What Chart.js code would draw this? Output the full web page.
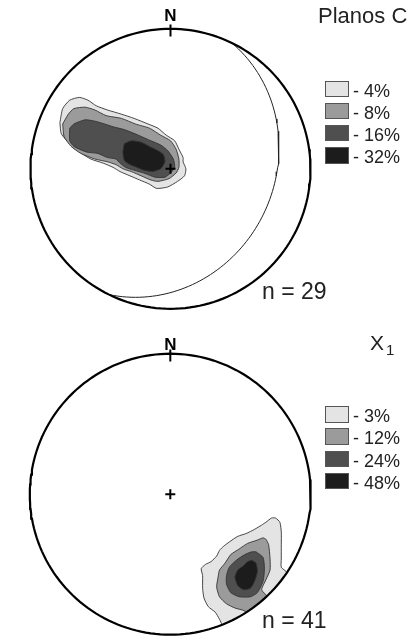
<!DOCTYPE html>
<html><head><meta charset="utf-8">
<script src="https://cdn.jsdelivr.net/npm/chart.js@4.4.1/dist/chart.umd.min.js"></script>
<style>
html,body{margin:0;padding:0;background:#fff;}
#wrap{position:relative;width:420px;height:640px;overflow:hidden;font-family:"Liberation Sans",Arial,Helvetica,sans-serif;color:#222;}
.panel{position:absolute;left:0;width:420px;height:320px;}
canvas{position:absolute;left:0;top:0;}
.t{position:absolute;white-space:nowrap;line-height:1;}
.box{position:absolute;box-sizing:border-box;width:24px;height:16.5px;border:1px solid #555;}
</style></head><body><div id="wrap">
<div class="panel" id="p0" style="top:0"><canvas id="c0" width="420" height="320"></canvas></div>
<div class="panel" id="p1" style="top:320px"><canvas id="c1" width="420" height="320"></canvas></div>
</div>
<script>
// ---------------- data ----------------
const northLabel = 'N';
const titleTop = 'Planos C';
const titleBottom = 'X';
const titleBottomSub = '1';
const levelsTop = [4, 8, 16, 32];        // contour levels (%)
const levelsBottom = [3, 12, 24, 48];
const countTop = 29;
const countBottom = 41;
const planeStrike = 26;                  // mean plane drawn on upper net (deg)
const planeDip = 27;

// contour polygons, in % of net radius (x = east, y = north, equal-area net)
const top4 = [[-79,33],[-77,43],[-72,49],[-65,51],[-59,49],[-53,45],[-45,42],[-35,39],[-26,36],[-16,32],[-9,29],[-3,24],[3,20],[6,14],[9,8],[9,5],[11,0],[10,-5],[5,-9],[-2,-13],[-10,-14],[-15,-11],[-22,-8],[-29,-5],[-36,-2],[-41,1],[-48,4],[-57,7],[-65,12],[-72,18],[-78,25]];
const top8 = [[-77,32],[-73,39],[-69,43],[-61,44],[-54,42],[-46,38],[-35,36],[-25,32],[-15,29],[-7,24],[0,20],[4,14],[6,7],[6,1],[4,-3],[-1,-7],[-9,-9],[-14,-8],[-21,-5],[-28,-2],[-34,0],[-39,3],[-45,5],[-54,7],[-64,11],[-71,16],[-76,23]];
const top16 = [[-72,29],[-69,32],[-61,35],[-54,34],[-47,32],[-41,30],[-33,28],[-23,24],[-14,20],[-7,17],[-2,13],[2,7],[3,1],[0,-3],[-4,-6],[-11,-6],[-19,-3],[-26,-1],[-32,1],[-36,4],[-39,7],[-45,8],[-52,11],[-60,12],[-69,16],[-72,20]];
const top32 = [[-33,18],[-28,20],[-21,19],[-15,16],[-9,13],[-5,10],[-4,5],[-7,0],[-13,-2],[-19,-1],[-24,1],[-29,3],[-33,6],[-34,12]];

const bot3 = [[68,-20],[72,-17],[75,-17],[78,-20],[79,-27],[79,-36],[79,-46],[79,-52],[85,-57],[40,-100],[35,-89],[32,-84],[27,-80],[24,-74],[23,-67],[23,-58],[22,-53],[25,-50],[29,-48],[33,-44],[35,-40],[38,-37],[42,-34],[48,-30],[54,-28],[60,-25],[65,-22]];
const bot12 = [[66,-31],[68,-32],[70,-36],[71,-46],[71,-54],[68,-61],[65,-68],[72,-76],[57,-90],[53,-83],[46,-81],[40,-78],[35,-73],[33,-66],[34,-59],[35,-54],[39,-49],[43,-43],[49,-39],[55,-35],[61,-33]];
const bot24 = [[61,-41],[66,-45],[67,-53],[66,-62],[62,-70],[57,-73],[49,-73],[43,-70],[40,-64],[40,-58],[42,-52],[47,-47],[53,-43],[58,-41]];
const bot48 = [[58,-47],[61,-49],[62,-55],[60,-62],[57,-67],[52,-68],[48,-65],[46,-59],[48,-54],[52,-51],[55,-48]];

// ---------------- styles / layout ----------------
const fillColors = ['#e4e4e4', '#9b9b9b', '#4f4f4f', '#1c1c1c'];
const W = 420, H = 320;
const nets = [
  {canvas:'c0', panelTop:0,   cx:170.5, cy:168.8, r:140,   contours:[top4,top8,top16,top32], levels:levelsTop, n:countTop,
   plane:true, nTop:7.3, legendTop:80.5, legendStep:22.2, countTop:279.5},
  {canvas:'c1', panelTop:320, cx:170.3, cy:174.2, r:140.5, contours:[bot3,bot12,bot24,bot48], levels:levelsBottom, n:countBottom,
   plane:false, nTop:15.6, legendTop:86, legendStep:22.3, countTop:288.8}
];

function rimPath(poly){
  const out = []; let prevRim = null;
  for (const [px,py] of poly){
    let x = px/100, y = py/100; const rr = Math.hypot(x,y); let rim = false;
    if (rr > 1){ x /= rr; y /= rr; rim = true; }
    if (rim && prevRim){
      const a0 = Math.atan2(prevRim.y, prevRim.x), a1 = Math.atan2(y, x);
      let d = a1 - a0; while (d > Math.PI) d -= 2*Math.PI; while (d < -Math.PI) d += 2*Math.PI;
      const n = Math.ceil(Math.abs(d)/(Math.PI/90));
      for (let k=1;k<n;k++){ const a = a0 + d*k/n; out.push({x:Math.cos(a), y:Math.sin(a)}); }
    }
    out.push({x, y}); prevRim = rim ? {x, y} : null;
  }
  out.push({x:out[0].x, y:out[0].y});
  return out;
}
function primitive(){
  const pts = [];
  for (let a=0; a<=360; a+=2){ const t = a*Math.PI/180; pts.push({x:Math.sin(t), y:Math.cos(t)}); }
  return pts;
}
function greatCircle(strike, dip){
  const s = strike*Math.PI/180, dd = dip*Math.PI/180, da = s + Math.PI/2;
  const S = [Math.sin(s), Math.cos(s), 0];
  const D = [Math.cos(dd)*Math.sin(da), Math.cos(dd)*Math.cos(da), Math.sin(dd)];
  const pts = [];
  for (let t=0; t<=180; t+=2){
    const th = t*Math.PI/180;
    const v = [0,1,2].map(i => Math.cos(th)*S[i] + Math.sin(th)*D[i]);
    const f = 1/Math.sqrt(1 + Math.max(0, v[2]));
    pts.push({x:v[0]*f, y:v[1]*f});
  }
  return pts;
}

const wrap = document.getElementById('wrap');
function addText(txt, left, top, size, extra){
  const d = document.createElement('div'); d.className = 't';
  d.style.left = left + 'px'; d.style.top = top + 'px'; d.style.fontSize = size + 'px';
  if (extra) Object.assign(d.style, extra);
  d.innerHTML = txt; wrap.appendChild(d); return d;
}

nets.forEach((g, gi) => {
  const datasets = [];
  datasets.push({data: primitive(), showLine:true, borderColor:'#000', borderWidth:2.2, pointRadius:0, fill:false, order:0});
  datasets.push({data: [{x:0,y:1.03},{x:0,y:0.945}], showLine:true, borderColor:'#000', borderWidth:2, pointRadius:0, fill:false, order:0});
  datasets.push({data: [{x:0,y:0}], showLine:false, pointStyle:'cross', pointRadius:5, borderWidth:2, borderColor:'#000', backgroundColor:'#000', order:0});
  if (g.plane) datasets.push({data: greatCircle(planeStrike, planeDip), showLine:true, borderColor:'#222', borderWidth:1, pointRadius:0, fill:false, order:1});
  g.contours.forEach((poly, i) => {
    datasets.push({data: rimPath(poly), showLine:true, fill:'shape', backgroundColor:fillColors[i],
      borderColor:'#333', borderWidth:0.9, pointRadius:0, tension:0.2, order:5 - i});
  });
  new Chart(document.getElementById(g.canvas), {
    type:'scatter',
    data:{datasets},
    options:{
      responsive:false, animation:false, events:[],
      layout:{padding:0, autoPadding:false},
      plugins:{legend:{display:false}, tooltip:{enabled:false}, title:{display:false}},
      scales:{
        x:{type:'linear', display:false, min:-g.cx/g.r, max:(W-g.cx)/g.r},
        y:{type:'linear', display:false, min:-(H-g.cy)/g.r, max:g.cy/g.r}
      }
    }
  });
  const T = g.panelTop;
  addText(northLabel, g.cx - 20, T + g.nTop, 17, {width:'40px', textAlign:'center', fontWeight:'bold', color:'#000'});
  g.levels.forEach((lv, i) => {
    const bt = T + g.legendTop + i*g.legendStep;
    const b = document.createElement('div'); b.className = 'box';
    b.style.left = '325px'; b.style.top = bt + 'px'; b.style.background = fillColors[i];
    wrap.appendChild(b);
    addText('- ' + lv + '%', 353, bt + 1, 18);
  });
  addText('n = ' + g.n, 262, T + g.countTop, 23);
});
addText(titleTop, 318, 4.7, 22);
const xt = addText(titleBottom + '<span style="font-size:15px;position:relative;top:5px;margin-left:2px">' + titleBottomSub + '</span>', 370, 332.2, 21);
</script>
</body></html>
